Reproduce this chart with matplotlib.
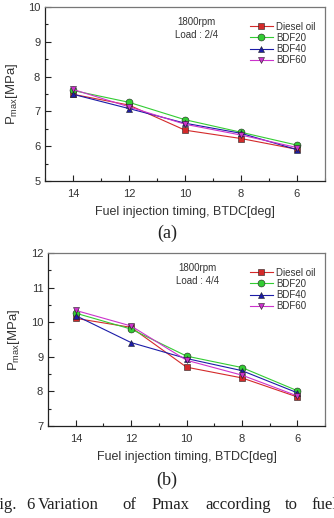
import matplotlib
matplotlib.use("Agg")
import matplotlib.pyplot as plt
from matplotlib.ticker import MultipleLocator

timing = [14, 12, 10, 8, 6]
series_names = ["Diesel oil", "BDF20", "BDF40", "BDF60"]

# (a) Load 2/4
a_diesel = [7.49, 7.18, 6.46, 6.22, 5.91]
a_bdf20 = [7.60, 7.26, 6.76, 6.40, 6.03]
a_bdf40 = [7.49, 7.08, 6.66, 6.37, 5.90]
a_bdf60 = [7.63, 7.13, 6.63, 6.32, 5.96]

# (b) Load 4/4
b_diesel = [10.11, 9.85, 8.70, 8.39, 7.84]
b_bdf20 = [10.26, 9.80, 9.02, 8.69, 8.02]
b_bdf40 = [10.19, 9.41, 8.95, 8.60, 7.96]
b_bdf60 = [10.34, 9.89, 8.90, 8.47, 7.87]

colors = ["#d42a2a", "#33cc33", "#1c1ca8", "#cc33cc"]
markers = ["s", "o", "^", "v"]

plt.rcParams['font.family'] = ['Liberation Sans', 'DejaVu Sans']
txt = "#333333"

fig = plt.figure(figsize=(3.34, 5.18), dpi=100)

def panel(rect, data, ylim, load_text, sub_label, sub_y):
    ax = fig.add_axes(rect)
    for vals, c, m, name in zip(data, colors, markers, series_names):
        ax.plot(timing, vals, color=c, lw=0.8, marker=m, markersize=5,
                markerfacecolor=c, markeredgecolor="#202020", markeredgewidth=0.4,
                label=name)
    ax.set_xlim(15, 5)
    ax.set_ylim(*ylim)
    ax.xaxis.set_major_locator(MultipleLocator(2))
    ax.xaxis.set_minor_locator(MultipleLocator(1))
    ax.yaxis.set_major_locator(MultipleLocator(1))
    ax.yaxis.set_minor_locator(MultipleLocator(0.5))
    ax.tick_params(which='both', direction='in', colors='#222222', labelcolor=txt,
                   labelsize=8, width=0.8)
    ax.tick_params(which='major', length=4)
    ax.tick_params(which='minor', length=2.5)
    ax.tick_params(axis='x', pad=6)
    for s in ['left', 'bottom']:
        ax.spines[s].set_color('#222222')
        ax.spines[s].set_linewidth(0.9)
    for s in ['top', 'right']:
        ax.spines[s].set_color('#777777')
        ax.spines[s].set_linewidth(0.9)
    ax.set_xlabel("Fuel injection timing, BTDC[deg]", fontsize=9, color=txt, labelpad=5)
    ax.set_ylabel(r"P$_{\mathregular{max}}$[MPa]", fontsize=9.5, color=txt, labelpad=6)
    ax.text(0.54, 0.94, "1800rpm\n" + load_text, transform=ax.transAxes,
            ha='center', va='top', fontsize=7, color=txt, linespacing=1.3)
    ax.legend(loc='upper right', bbox_to_anchor=(0.99, 0.955), frameon=False,
              fontsize=7, handlelength=2.4, handletextpad=0.3,
              labelspacing=0.12, borderpad=0.2, labelcolor=txt)
    fig.text(0.5, sub_y, sub_label, ha='center', va='center', fontsize=13,
             family=['Liberation Serif'], color='#222222')
    return ax

panel([0.135, 0.6506, 0.838, 0.336], [a_diesel, a_bdf20, a_bdf40, a_bdf60],
      (5, 10), "Load : 2/4", "(a)", 1 - 233 / 518)
panel([0.144, 0.1776, 0.829, 0.334], [b_diesel, b_bdf20, b_bdf40, b_bdf60],
      (7, 12), "Load : 4/4", "(b)", 1 - 480 / 518)

# caption (justified line, cut at both edges as in the reference)
cap_words = ["Fig.", "6", "Variation", "of", "Pmax", "according", "to", "fuel"]
cap_x = [-9, 26, 38, 122, 152, 205, 285, 311]
for w, x in zip(cap_words, cap_x):
    fig.text(x / 334, 1 - 505 / 518, w, ha='left', va='center', fontsize=12,
             family=['Liberation Serif'], color='#222222')

fig.savefig("out.png", dpi=100)
